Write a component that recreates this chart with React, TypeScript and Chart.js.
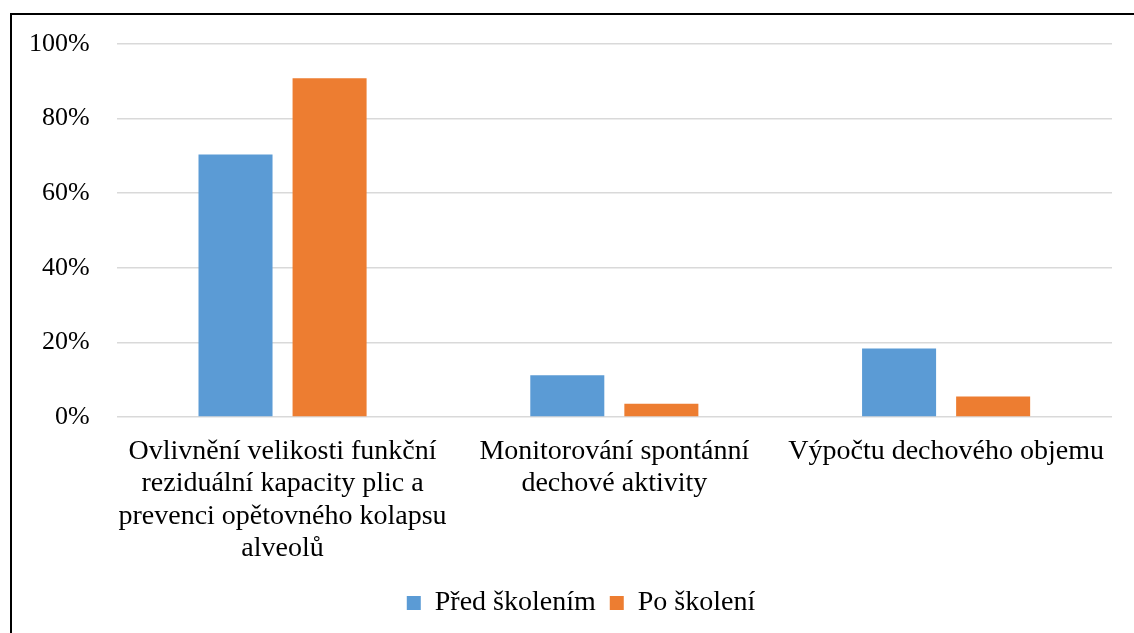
import React, { useEffect, useRef } from "react";
import { Chart, registerables } from "chart.js";

Chart.register(...registerables);

const categories: string[][] = [
  ["Ovlivnění velikosti funkční", "reziduální kapacity plic a", "prevenci opětovného kolapsu", "alveolů"],
  ["Monitorování spontánní", "dechové aktivity"],
  ["Výpočtu dechového objemu"],
];
const seriesNames = ["Před školením", "Po školení"];
const beforeValues = [70.4, 11.2, 18.4];
const afterValues = [90.8, 3.6, 5.5];
const yTicks = [0, 20, 40, 60, 80, 100];

const FONT = "'Liberation Serif', 'Times New Roman', serif";

const legendShift = {
  id: "legendShift",
  afterLayout(chart: any) {
    if (chart.legend) {
      chart.legend.left += 24;
      chart.legend.right += 24;
    }
  },
};

export default function App() {
  const ref = useRef<HTMLCanvasElement | null>(null);
  useEffect(() => {
    if (!ref.current) return;
    const chart = new Chart(ref.current, {
      type: "bar",
      data: {
        labels: categories,
        datasets: [
          {
            label: seriesNames[0],
            data: beforeValues,
            backgroundColor: "#5B9BD5",
            barPercentage: 0.787,
            categoryPercentage: 0.567,
          },
          {
            label: seriesNames[1],
            data: afterValues,
            backgroundColor: "#ED7D31",
            barPercentage: 0.787,
            categoryPercentage: 0.567,
          },
        ],
      },
      plugins: [legendShift],
      options: {
        animation: false,
        responsive: false,
        maintainAspectRatio: false,
        layout: { padding: { left: 2, right: 22, top: 44, bottom: 6 } },
        plugins: {
          tooltip: { enabled: false },
          legend: {
            position: "bottom",
            labels: {
              color: "#000",
              font: { family: FONT, size: 28 },
              boxWidth: 14,
              boxHeight: 14,
              padding: 14,
            },
          },
        },
        scales: {
          x: {
            grid: { display: false },
            border: { display: false },
            ticks: {
              color: "#000",
              font: { family: FONT, size: 28, lineHeight: 1.16 },
              maxRotation: 0,
              autoSkip: false,
              padding: 10,
            },
          },
          y: {
            min: 0,
            max: 100,
            afterBuildTicks: (axis: any) => {
              axis.ticks = yTicks.map((v) => ({ value: v }));
            },
            grid: { color: "#d9d9d9", lineWidth: 1.5, drawTicks: false },
            border: { display: false },
            ticks: {
              color: "#000",
              font: { family: FONT, size: 26 },
              padding: 27,
              callback: (v: any) => v + "%",
            },
          },
        },
      },
    });
    return () => chart.destroy();
  }, []);
  return (
    <div style={{ position: "fixed", left: 0, top: 0, width: 1134, height: 633, overflow: "hidden", background: "#fff" }}>
      <div
        style={{
          position: "absolute",
          left: 10,
          top: 13,
          width: 1300,
          height: 800,
          border: "2px solid #000",
          boxSizing: "border-box",
        }}
      />
      <canvas ref={ref} width={1134} height={633} style={{ position: "absolute", left: 0, top: 0 }} />
    </div>
  );
}
